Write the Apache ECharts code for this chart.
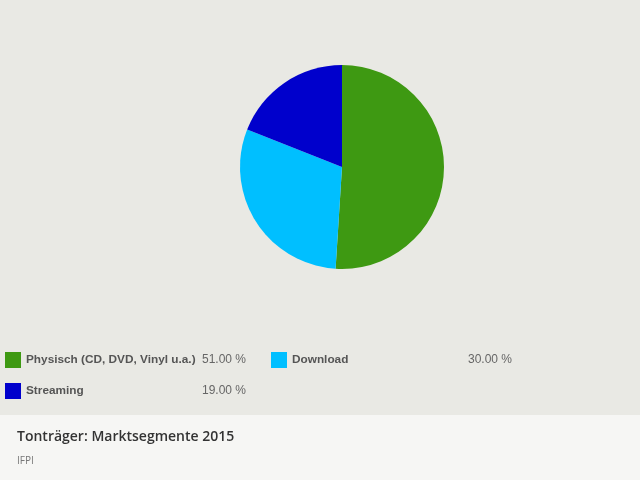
<!DOCTYPE html>
<html>
<head>
<meta charset="utf-8">
<script src="https://cdn.jsdelivr.net/npm/echarts@6/dist/echarts.min.js"></script>
<style>
  html, body { margin: 0; padding: 0; background: #e9e9e4; }
  #chart { width: 640px; height: 480px; }
</style>
</head>
<body>
<div id="chart"></div>
<script>
// Marktsegmente 2015 (Anteil in %)
const segments = ["Physisch (CD, DVD, Vinyl u.a.)", "Download", "Streaming"];
const shares = [51, 30, 19];
const colors = ["#3e9912", "#00bfff", "#0000cc"];

document.addEventListener("DOMContentLoaded", function () {
    var chart = echarts.init(document.getElementById("chart"));

    var pieData = segments.map(function (name, i) {
        return { name: name, value: shares[i], itemStyle: { color: colors[i] } };
    });

    var option = {
        backgroundColor: "#e9e9e4",
        animation: false,
        graphic: [{
            type: "rect",
            z: -1,
            shape: { x: 0, y: 415, width: 640, height: 65 },
            style: { fill: "#f6f6f4" }
        }],
        title: {
            text: "Tonträger: Marktsegmente 2015",
            subtext: "IFPI",
            left: 17,
            top: 430,
            padding: 0,
            itemGap: 12,
            textStyle: { fontFamily: "Open Sans", fontSize: 14, fontWeight: 600, color: "#333" },
            subtextStyle: { fontFamily: "Open Sans", fontSize: 10, color: "#777" }
        },
        legend: {
            left: 5,
            top: 352,
            width: 560,
            padding: 0,
            itemWidth: 16,
            itemHeight: 16,
            itemGap: 15,
            icon: "rect",
            selectedMode: false,
            formatter: function (name) {
                var v = shares[segments.indexOf(name)];
                return "{n|" + name + "}{v|" + v.toFixed(2) + " %}{p|}";
            },
            textStyle: {
                rich: {
                    n: { width: 174, fontFamily: "Liberation Sans", fontSize: 11.8, fontWeight: "bold", color: "#555" },
                    v: { width: 48, align: "right", fontFamily: "Liberation Sans", fontSize: 12, color: "#666" },
                    p: { width: 16 }
                }
            }
        },
        series: [{
            type: "pie",
            center: [342, 167],
            radius: 102,
            startAngle: 90,
            label: { show: false },
            labelLine: { show: false },
            emphasis: { disabled: true },
            data: pieData
        }]
    };

    chart.setOption(option);
});
</script>
</body>
</html>
